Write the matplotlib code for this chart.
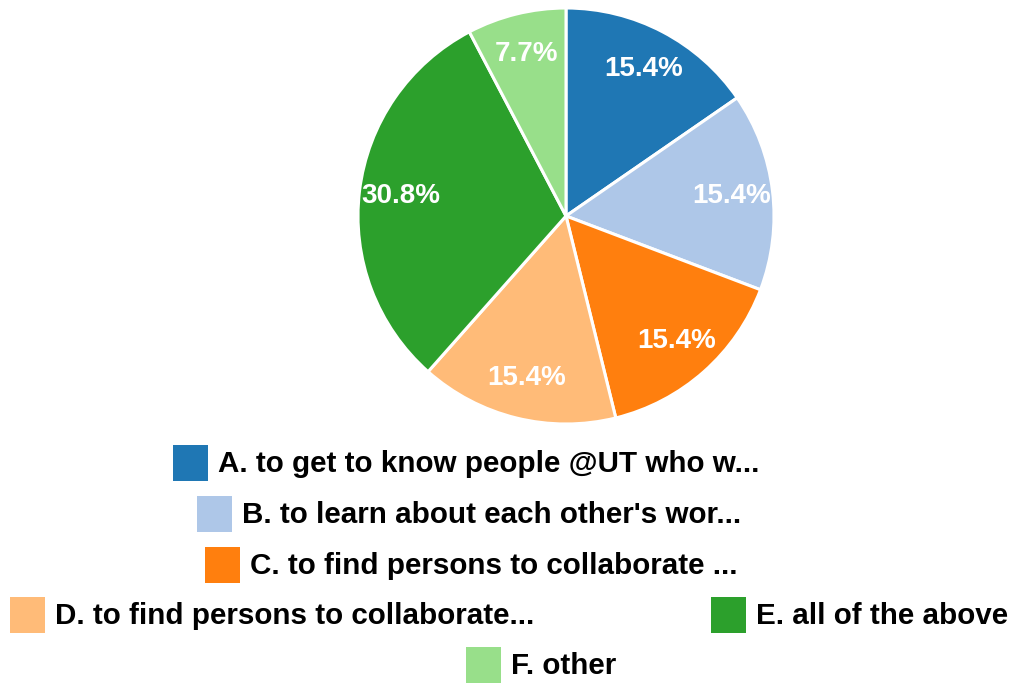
import matplotlib
matplotlib.use("Agg")
import matplotlib.pyplot as plt
from matplotlib.patches import Rectangle

# ---------------------------------------------------------------------------
# Data
# ---------------------------------------------------------------------------
labels = [
    "A. to get to know people @UT who w...",
    "B. to learn about each other's wor...",
    "C. to find persons to collaborate ...",
    "D. to find persons to collaborate...",
    "E. all of the above",
    "F. other",
]
counts = [2, 2, 2, 2, 4, 1]
colors = ["#1f77b4", "#aec7e8", "#ff7f0e", "#ffbb78", "#2ca02c", "#98df8a"]

# legend layout (pixel coords: square left x, row center y)
legend_pos = [(173, 463), (197, 514), (205, 565), (10, 615), (711, 615), (466, 665)]

W, H = 1013, 684
fig = plt.figure(figsize=(W / 100, H / 100), dpi=100)

cx, cy, r = 566, 216, 208
ax = fig.add_axes([(cx - r) / W, (H - cy - r) / H, 2 * r / W, 2 * r / H])
wedges, _, autotexts = ax.pie(
    counts, colors=colors, startangle=90, counterclock=False,
    autopct="%1.1f%%", pctdistance=0.8, radius=1,
    wedgeprops=dict(edgecolor="white", linewidth=2.2),
    textprops=dict(color="white", fontsize=20, fontweight="bold",
                   family="Liberation Sans"),
)
ax.set_xlim(-1, 1)
ax.set_ylim(-1, 1)
ax.set_aspect("equal")
ax.axis("off")

# manual legend in pixel space
lax = fig.add_axes([0, 0, 1, 1])
lax.set_xlim(0, W)
lax.set_ylim(H, 0)
lax.axis("off")
for lab, col, (x, y) in zip(labels, colors, legend_pos):
    lax.add_patch(Rectangle((x, y - 18), 35, 36, facecolor=col, edgecolor="none"))
    lax.text(x + 45, y + 1, lab, ha="left", va="center", fontsize=21.3,
             fontweight="bold", family="Liberation Sans", color="black")

fig.savefig("out.png", dpi=100)
